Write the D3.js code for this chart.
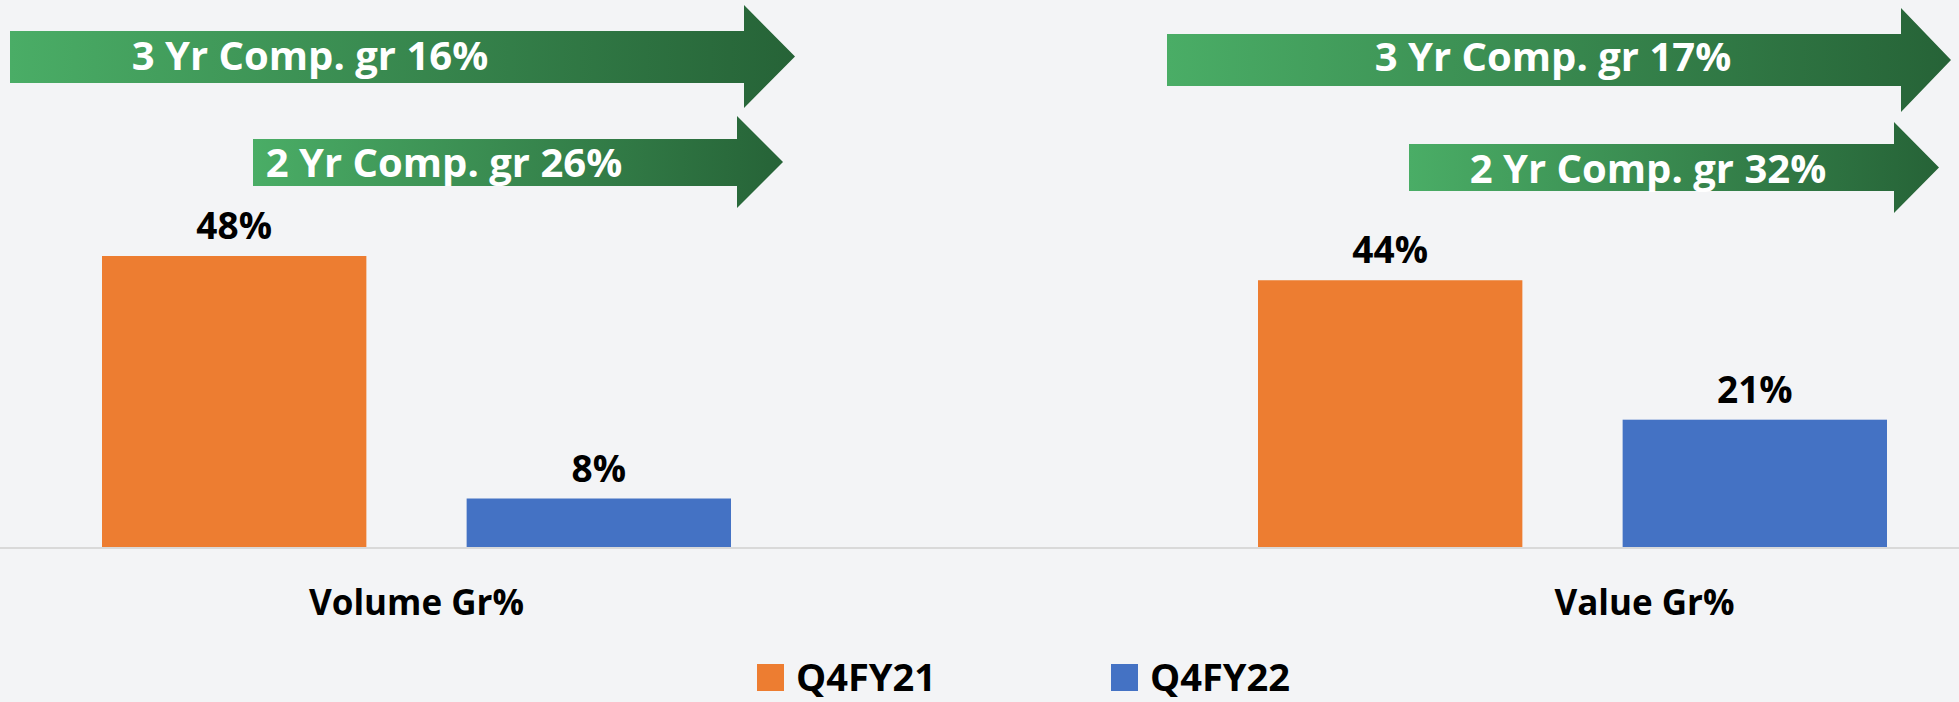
<!DOCTYPE html>
<html>
<head>
<meta charset="utf-8">
<script src="https://cdn.jsdelivr.net/npm/d3@7"></script>
<style>
  html, body { margin: 0; padding: 0; background: #f3f4f6; }
  svg { display: block; font-family: "Open Sans", "Noto Sans", sans-serif; }
</style>
</head>
<body>
<div id="chart"></div>
<script>
// data
var categories = ["Volume Gr%", "Value Gr%"];
var seriesNames = ["Q4FY21", "Q4FY22"];
var q4fy21 = [48, 44];
var q4fy22 = [8, 21];
var arrowLabels3 = ["3 Yr Comp. gr 16%", "3 Yr Comp. gr 17%"];
var arrowLabels2 = ["2 Yr Comp. gr 26%", "2 Yr Comp. gr 32%"];

var width = 1959, height = 702;
var colors = { Q4FY21: "#ed7d31", Q4FY22: "#4472c4" };

var svg = d3.select("#chart")
    .append("svg")
    .attr("width", width)
    .attr("height", height);

svg.append("rect")
    .attr("width", width)
    .attr("height", height)
    .attr("fill", "#f3f4f6");

// gradient for the arrows
var grad = svg.append("defs").append("linearGradient")
    .attr("id", "arrowGrad")
    .attr("x1", "0%").attr("x2", "100%")
    .attr("y1", "0%").attr("y2", "0%");
grad.append("stop").attr("offset", "0%").attr("stop-color", "#4aad66");
grad.append("stop").attr("offset", "100%").attr("stop-color", "#266337");

// scales
var x0 = d3.scalePoint()
    .domain(categories)
    .range([416.5, 1572.5]);

var x1 = d3.scaleBand()
    .domain(seriesNames)
    .range([-314.5, 314.5])
    .paddingInner(0.275)
    .paddingOuter(0);

var y = d3.scaleLinear()
    .domain([0, 48])
    .range([547, 256]);

var rows = categories.map(function (c, i) {
    return { cat: c, values: [
        { key: "Q4FY21", value: q4fy21[i] },
        { key: "Q4FY22", value: q4fy22[i] }
    ] };
});

// baseline
svg.append("line")
    .attr("x1", 0)
    .attr("x2", width)
    .attr("y1", y(0) + 1)
    .attr("y2", y(0) + 1)
    .attr("stroke", "#d9d9d9")
    .attr("stroke-width", 2);

var groups = svg.selectAll(".grp")
    .data(rows)
    .enter()
    .append("g")
    .attr("class", "grp")
    .attr("transform", function (d) { return "translate(" + x0(d.cat) + ",0)"; });

groups.selectAll("rect")
    .data(function (d) { return d.values; })
    .enter()
    .append("rect")
    .attr("x", function (d) { return x1(d.key); })
    .attr("y", function (d) { return y(d.value); })
    .attr("width", x1.bandwidth())
    .attr("height", function (d) { return y(0) - y(d.value); })
    .attr("fill", function (d) { return colors[d.key]; });

groups.selectAll(".lbl")
    .data(function (d) { return d.values; })
    .enter()
    .append("text")
    .attr("class", "lbl")
    .attr("x", function (d) { return x1(d.key) + x1.bandwidth() / 2; })
    .attr("y", function (d) { return y(d.value) - 17; })
    .attr("text-anchor", "middle")
    .style("font-size", "37px")
    .style("font-weight", "700")
    .attr("fill", "#000")
    .text(function (d) { return d.value + "%"; });

// category labels (the right one sits a bit off centre in the original)
var catShift = [0, 72];
svg.selectAll(".cat")
    .data(categories)
    .enter()
    .append("text")
    .attr("class", "cat")
    .attr("x", function (d, i) { return x0(d) + catShift[i]; })
    .attr("y", 615)
    .attr("text-anchor", "middle")
    .style("font-size", "35px")
    .style("font-weight", "700")
    .attr("fill", "#000")
    .text(function (d) { return d; });

// growth arrows
function arrow(x0a, x1a, tip, yTop, yBot, headTop, headBot, label, textX, baseY) {
    var yMid = (headTop + headBot) / 2;
    var pts = [
        [x0a, yTop], [x1a, yTop], [x1a, headTop], [tip, yMid],
        [x1a, headBot], [x1a, yBot], [x0a, yBot]
    ];
    svg.append("path")
        .attr("d", d3.line()(pts) + "Z")
        .attr("fill", "url(#arrowGrad)");
    svg.append("text")
        .attr("x", textX)
        .attr("y", baseY)
        .attr("text-anchor", "middle")
        .style("font-size", "40px")
        .style("font-weight", "700")
        .attr("fill", "#fff")
        .text(label);
}

arrow(10, 744, 795, 31, 83, 5, 108, arrowLabels3[0], 310, 70);
arrow(253, 737, 783, 139, 186, 116, 208, arrowLabels2[0], 444, 177);
arrow(1167, 1901, 1951, 34, 86, 8, 112, arrowLabels3[1], 1553, 71);
arrow(1409, 1894, 1939, 144, 191, 122, 213, arrowLabels2[1], 1648, 183);

// legend
var legend = svg.selectAll(".leg")
    .data(seriesNames)
    .enter()
    .append("g")
    .attr("class", "leg")
    .attr("transform", function (d, i) { return "translate(" + (757 + i * 354) + ",664)"; });

legend.append("rect")
    .attr("width", 27)
    .attr("height", 27)
    .attr("fill", function (d) { return colors[d]; });

legend.append("text")
    .attr("x", 39)
    .attr("y", 27)
    .style("font-size", "38px")
    .style("font-weight", "700")
    .attr("fill", "#000")
    .text(function (d) { return d; });
</script>
</body>
</html>
